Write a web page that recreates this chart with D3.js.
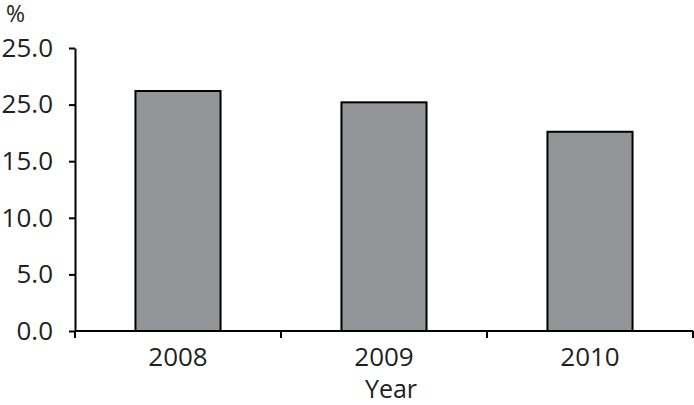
<!DOCTYPE html>
<html lang="en">
<head>
    <meta charset="UTF-8">
    <title>Year bar chart</title>
    <script src="https://d3js.org/d3.v7.min.js"></script>
    <style>
        body { margin: 0; background: #fff; }
        svg text { font-family: "Open Sans", sans-serif; fill: #231f20; }
    </style>
</head>
<body>
    <svg id="chart" width="694" height="405"></svg>

    <script>
        // Data
        const years = ["2008", "2009", "2010"];
        const values = [21.2, 20.2, 17.6];
        const yTickValues = [0, 5, 10, 15, 20, 25];
        const yTickLabels = ["0.0", "5.0", "10.0", "15.0", "25.0", "25.0"];

        const width = 694, height = 405;
        const margin = { top: 48, right: 1, bottom: 75, left: 75 };

        const svg = d3.select("#chart");

        const x = d3.scaleBand()
            .domain(years)
            .range([margin.left, width - margin.right])
            .paddingInner(0.587)
            .paddingOuter(0.2935);

        const y = d3.scaleLinear()
            .domain([0, 25])
            .range([height - margin.bottom + 1, margin.top]);

        // Bars
        svg.append("g")
            .selectAll("rect")
            .data(years)
            .enter().append("rect")
            .attr("x", (d, i) => x(d))
            .attr("y", (d, i) => y(values[i]))
            .attr("width", x.bandwidth())
            .attr("height", (d, i) => y(0) - y(values[i]))
            .attr("fill", "#939598")
            .attr("stroke", "#000")
            .attr("stroke-width", 2);

        // Y axis
        const yAxis = d3.axisLeft(y)
            .tickValues(yTickValues)
            .tickFormat((d, i) => yTickLabels[i])
            .tickSize(6)
            .tickSizeOuter(0)
            .tickPadding(16);

        const yg = svg.append("g")
            .attr("transform", `translate(${margin.left},0)`)
            .call(yAxis);
        yg.selectAll("path, line").attr("stroke", "#000").attr("stroke-width", 2);
        yg.selectAll("text").style("font-size", "26px").attr("fill", "#231f20");

        // X axis: ticks sit between the categories
        const step = x.step();
        const boundaries = d3.range(years.length + 1).map(i => margin.left + i * step);
        const xg = svg.append("g").attr("class", "x-axis");
        xg.append("line")
            .attr("x1", margin.left).attr("x2", width - margin.right)
            .attr("y1", y(0)).attr("y2", y(0))
            .attr("stroke", "#000").attr("stroke-width", 2);
        xg.selectAll("line.tick")
            .data(boundaries)
            .enter().append("line")
            .attr("class", "tick")
            .attr("x1", d => d).attr("x2", d => d)
            .attr("y1", y(0)).attr("y2", y(0) + 7)
            .attr("stroke", "#000").attr("stroke-width", 2);
        xg.selectAll("text")
            .data(years)
            .enter().append("text")
            .attr("x", d => x(d) + x.bandwidth() / 2)
            .attr("y", y(0) + 35)
            .attr("text-anchor", "middle")
            .style("font-size", "26px")
            .text(d => d);

        // Axis titles
        svg.append("text")
            .attr("x", 391).attr("y", 398)
            .attr("text-anchor", "middle")
            .style("font-size", "25px")
            .text("Year");

        svg.append("text")
            .attr("x", 6).attr("y", 22)
            .style("font-size", "23px")
            .text("%");
    </script>
</body>
</html>
